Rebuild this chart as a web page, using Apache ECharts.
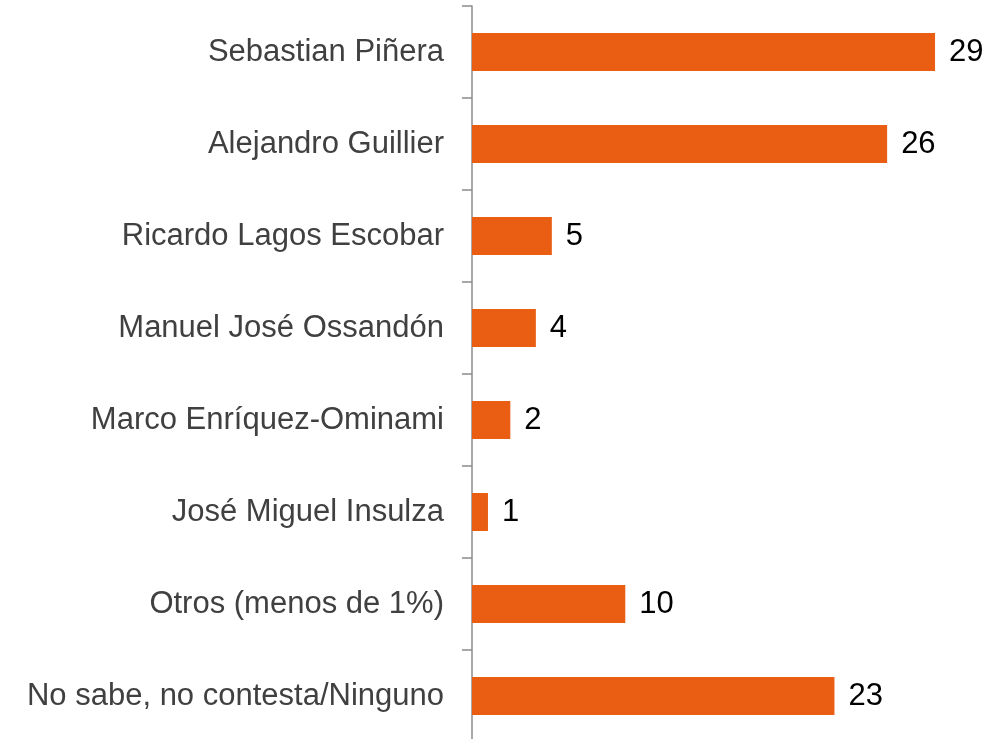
<!DOCTYPE html>
<html>
<head>
<meta charset="utf-8">
<script src="https://cdn.jsdelivr.net/npm/echarts@6/dist/echarts.min.js"></script>
<style>
  html, body { margin: 0; padding: 0; background: #fff; overflow: hidden; }
  /* un poco más alto que la ventana: el eje sigue por debajo del borde */
  #main { width: 988px; height: 745px; }
</style>
</head>
<body>
<div id="main"></div>
<script>
// categorías, de arriba hacia abajo
var categories = [
  'Sebastian Piñera',
  'Alejandro Guillier',
  'Ricardo Lagos Escobar',
  'Manuel José Ossandón',
  'Marco Enríquez-Ominami',
  'José Miguel Insulza',
  'Otros (menos de 1%)',
  'No sabe, no contesta/Ninguno'
];
// largo de las barras y etiqueta redondeada
var values = [29, 26, 5, 4, 2.4, 1, 9.6, 22.7];
var labels = ['29', '26', '5', '4', '2', '1', '10', '23'];

var myChart = echarts.init(document.getElementById('main'));

var option = {
  animation: false,
  grid: {
    left: 472,
    top: 6,
    width: 479,   // 30 unidades
    bottom: 3
  },
  xAxis: {
    type: 'value',
    min: 0,
    max: 30,
    show: false
  },
  yAxis: {
    type: 'category',
    data: categories,
    inverse: true,
    axisLine: { lineStyle: { color: '#8c8c8c', width: 1.5 } },
    axisTick: { show: true, length: 10, lineStyle: { color: '#8c8c8c', width: 1.5 } },
    axisLabel: {
      margin: 28,
      color: '#404040',
      fontSize: 31,
      fontFamily: 'Liberation Sans, Arial, sans-serif'
    },
    splitLine: { show: false }
  },
  series: [
    {
      type: 'bar',
      data: values,
      barWidth: 38,
      itemStyle: { color: '#E95E12' },
      label: {
        show: true,
        position: 'right',
        distance: 14,
        color: '#000',
        fontSize: 31,
        fontFamily: 'Liberation Sans, Arial, sans-serif',
        formatter: function (p) { return labels[p.dataIndex]; }
      }
    }
  ]
};

myChart.setOption(option);
</script>
</body>
</html>
